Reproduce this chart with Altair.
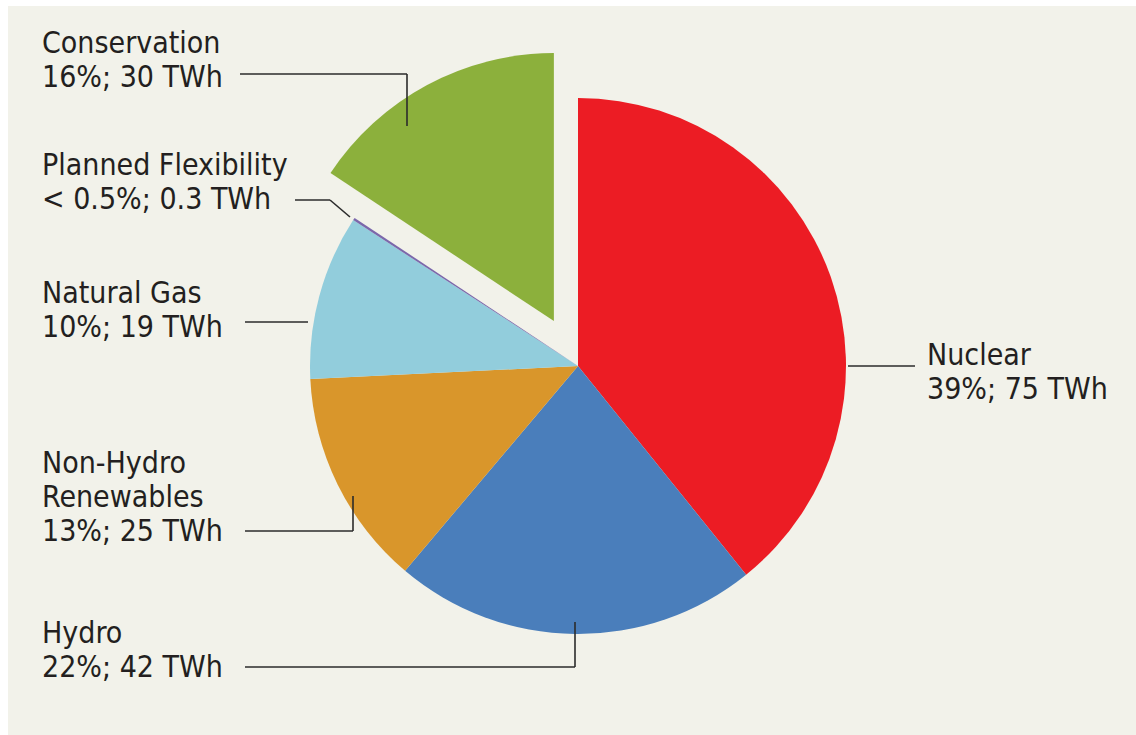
import altair as alt
import pandas as pd

# ---- data ----
categories = ["Nuclear", "Hydro", "Non-Hydro Renewables", "Natural Gas",
              "Planned Flexibility", "Conservation"]
values_twh = [75, 42, 25, 19, 0.3, 30]
label_texts = [
    "Nuclear\n39%; 75 TWh",
    "Hydro\n22%; 42 TWh",
    "Non-Hydro\nRenewables\n13%; 25 TWh",
    "Natural Gas\n10%; 19 TWh",
    "Planned Flexibility\n< 0.5%; 0.3 TWh",
    "Conservation\n16%; 30 TWh",
]
colors = ["#ec1c24", "#4a7ebb", "#d9962b", "#92cddc", "#7b68ab", "#8cb03c"]
exploded = ["Conservation"]

# ---- layout (plot-area pixels) ----
CX, CY, R, EXPLODE = 570, 360, 268, 51
label_x = [919, 34, 34, 34, 34, 34]
label_y = [359, 637, 467, 297, 169, 47]
# leader line segments: category, x, y, x2, y2
seg_cat = ["Conservation", "Conservation", "Planned Flexibility", "Planned Flexibility",
           "Natural Gas", "Non-Hydro Renewables", "Non-Hydro Renewables",
           "Hydro", "Hydro", "Nuclear"]
seg_x = [232, 399, 287, 322, 237, 237, 345, 237, 567, 840]
seg_y = [68, 68, 194, 194, 316, 525, 525, 661, 661, 360]
seg_x2 = [399, 399, 322, 342, 300, 345, 345, 567, 567, 907]
seg_y2 = [68, 120, 194, 211, 316, 525, 490, 661, 616, 360]

FONT = "Liberation Sans Narrow, DejaVu Sans Condensed, Arial Narrow, sans-serif"

df = pd.DataFrame({
    "category": categories,
    "value": values_twh,
    "order": list(range(len(categories))),
})
labels_df = pd.DataFrame({"category": categories, "text": label_texts,
                          "lx": label_x, "ly": label_y})
seg_df = pd.DataFrame({"category": seg_cat, "x": seg_x, "y": seg_y,
                       "x2": seg_x2, "y2": seg_y2})

color_scale = alt.Scale(domain=categories, range=colors)

base = (
    alt.Chart(df)
    .transform_joinaggregate(total="sum(value)")
    .transform_window(cum="sum(value)", sort=[alt.SortField("order")])
    .transform_calculate(
        a0="(datum.cum - datum.value) / datum.total * 2 * PI",
        a1="datum.cum / datum.total * 2 * PI",
    )
    .transform_calculate(mid="(datum.a0 + datum.a1) / 2")
)

ex_test = " || ".join([f"datum.category === '{c}'" for c in exploded])

main_pie = base.transform_filter(f"!({ex_test})").mark_arc(
    x=CX, y=CY, radius=R, stroke=None
).encode(
    theta=alt.Theta("a0:Q", scale=None),
    theta2="a1:Q",
    color=alt.Color("category:N", scale=color_scale, legend=None),
)

ex_pie = base.transform_filter(ex_test).transform_calculate(
    cx=f"{CX} + {EXPLODE} * sin(datum.mid)",
    cy=f"{CY} - {EXPLODE} * cos(datum.mid)",
).mark_arc(radius=R, stroke=None).encode(
    x=alt.X("cx:Q", scale=None),
    y=alt.Y("cy:Q", scale=None),
    theta=alt.Theta("a0:Q", scale=None),
    theta2="a1:Q",
    color=alt.Color("category:N", scale=color_scale, legend=None),
)

leaders = alt.Chart(seg_df).mark_rule(color="#2b2b2b", strokeWidth=1.6).encode(
    x=alt.X("x:Q", scale=None),
    y=alt.Y("y:Q", scale=None),
    x2="x2:Q",
    y2="y2:Q",
)

labels = alt.Chart(labels_df).transform_calculate(
    lines="split(datum.text, '\\n')"
).mark_text(
    align="left", baseline="alphabetic", font=FONT, fontSize=30,
    lineHeight=34, color="#231f20",
).encode(
    x=alt.X("lx:Q", scale=None),
    y=alt.Y("ly:Q", scale=None),
    text="lines:N",
)

chart = (
    alt.layer(main_pie, ex_pie, leaders, labels)
    .properties(
        width=1128, height=729,
        padding={"left": 8, "top": 6, "right": 0, "bottom": 0},
        autosize=alt.AutoSizeParams(type="none"),
        background="#ffffff",
    )
    .configure_view(fill="#f2f2ea", stroke=None)
)

chart.save("out.html", embed_options={"renderer": "svg", "actions": False})
